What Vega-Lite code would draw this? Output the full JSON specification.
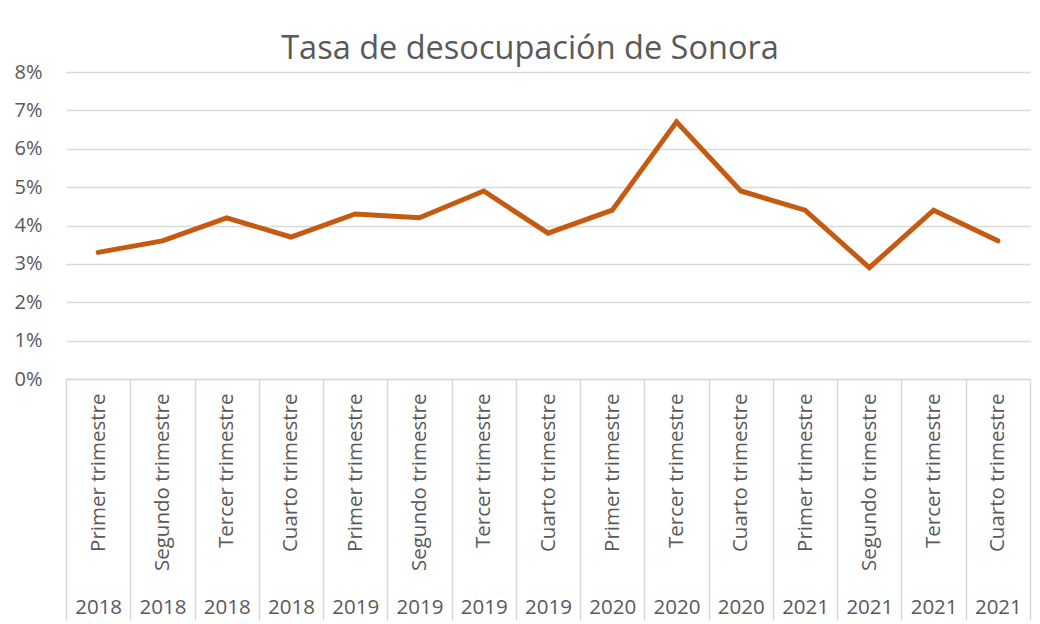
{
  "$schema": "https://vega.github.io/schema/vega-lite/v6.json",
  "width": 964,
  "height": 307,
  "autosize": "none",
  "padding": {"left": 66, "top": 72, "right": 10, "bottom": 245},
  "background": "white",
  "title": {
    "text": "Tasa de desocupación de Sonora",
    "font": "Open Sans",
    "fontSize": 32.5,
    "fontWeight": "normal",
    "color": "#595959",
    "anchor": "middle",
    "dx": -18,
    "dy": 8,
    "offset": 5
  },
  "config": {
    "view": {"stroke": null}
  },
  "data": {
    "values": [
      {"key": "2018|Primer trimestre", "tasa": 0.033},
      {"key": "2018|Segundo trimestre", "tasa": 0.036},
      {"key": "2018|Tercer trimestre", "tasa": 0.042},
      {"key": "2018|Cuarto trimestre", "tasa": 0.037},
      {"key": "2019|Primer trimestre", "tasa": 0.043},
      {"key": "2019|Segundo trimestre", "tasa": 0.042},
      {"key": "2019|Tercer trimestre", "tasa": 0.049},
      {"key": "2019|Cuarto trimestre", "tasa": 0.038},
      {"key": "2020|Primer trimestre", "tasa": 0.044},
      {"key": "2020|Tercer trimestre", "tasa": 0.067},
      {"key": "2020|Cuarto trimestre", "tasa": 0.049},
      {"key": "2021|Primer trimestre", "tasa": 0.044},
      {"key": "2021|Segundo trimestre", "tasa": 0.029},
      {"key": "2021|Tercer trimestre", "tasa": 0.044},
      {"key": "2021|Cuarto trimestre", "tasa": 0.036}
    ]
  },
  "layer": [
    {
      "mark": {"type": "line", "opacity": 0},
      "encoding": {
        "x": {
          "field": "key",
          "type": "nominal",
          "sort": null,
          "scale": {"type": "band", "paddingInner": 0, "paddingOuter": 0},
          "axis": {
            "orient": "bottom",
            "title": null,
            "labelAngle": 0,
            "labelExpr": "split(datum.label, '|')[0]",
            "labelFont": "Open Sans",
            "labelFontSize": 20.5,
            "labelColor": "#595959",
            "ticks": true,
            "tickBand": "extent",
            "tickSize": 241,
            "tickWidth": 1.5,
            "tickColor": "#D9D9D9",
            "domain": false,
            "labelPadding": -13,
            "labelBaseline": "middle",
            "labelAlign": "center",
            "grid": false
          }
        },
        "y": {
          "field": "tasa",
          "type": "quantitative",
          "scale": {"domain": [0, 0.08], "nice": false},
          "axis": {
            "title": null,
            "format": "%",
            "values": [0, 0.01, 0.02, 0.03, 0.04, 0.05, 0.06, 0.07, 0.08],
            "labelFont": "Open Sans",
            "labelFontSize": 20,
            "labelColor": "#595959",
            "domain": false,
            "ticks": false,
            "grid": true,
            "gridWidth": 1.5,
            "gridColor": "#D9D9D9",
            "labelAlign": "left",
            "labelPadding": 52,
            "labelBaseline": "middle"
          }
        }
      }
    },
    {
      "mark": {"type": "line", "color": "#C55A11", "strokeWidth": 5, "strokeJoin": "miter", "strokeCap": "round"},
      "encoding": {
        "x": {
          "field": "key",
          "type": "nominal",
          "sort": null,
          "scale": {"type": "point", "padding": 0.5},
          "axis": {
            "orient": "bottom",
            "title": null,
            "labelAngle": -90,
            "labelExpr": "split(datum.label, '|')[1]",
            "labelFont": "Open Sans",
            "labelFontSize": 20.5,
            "labelColor": "#595959",
            "ticks": false,
            "domain": true,
            "domainWidth": 1.5,
            "domainColor": "#D9D9D9",
            "labelPadding": 14,
            "labelLimit": 300,
            "grid": false
          }
        },
        "y": {
          "field": "tasa",
          "type": "quantitative",
          "scale": {"domain": [0, 0.08], "nice": false},
          "axis": {
            "title": null,
            "format": "%",
            "values": [0, 0.01, 0.02, 0.03, 0.04, 0.05, 0.06, 0.07, 0.08],
            "labelFont": "Open Sans",
            "labelFontSize": 20,
            "labelColor": "#595959",
            "domain": false,
            "ticks": false,
            "grid": true,
            "gridWidth": 1.5,
            "gridColor": "#D9D9D9",
            "labelAlign": "left",
            "labelPadding": 52,
            "labelBaseline": "middle"
          }
        }
      }
    }
  ],
  "resolve": {"scale": {"x": "independent"}, "axis": {"x": "independent"}}
}
